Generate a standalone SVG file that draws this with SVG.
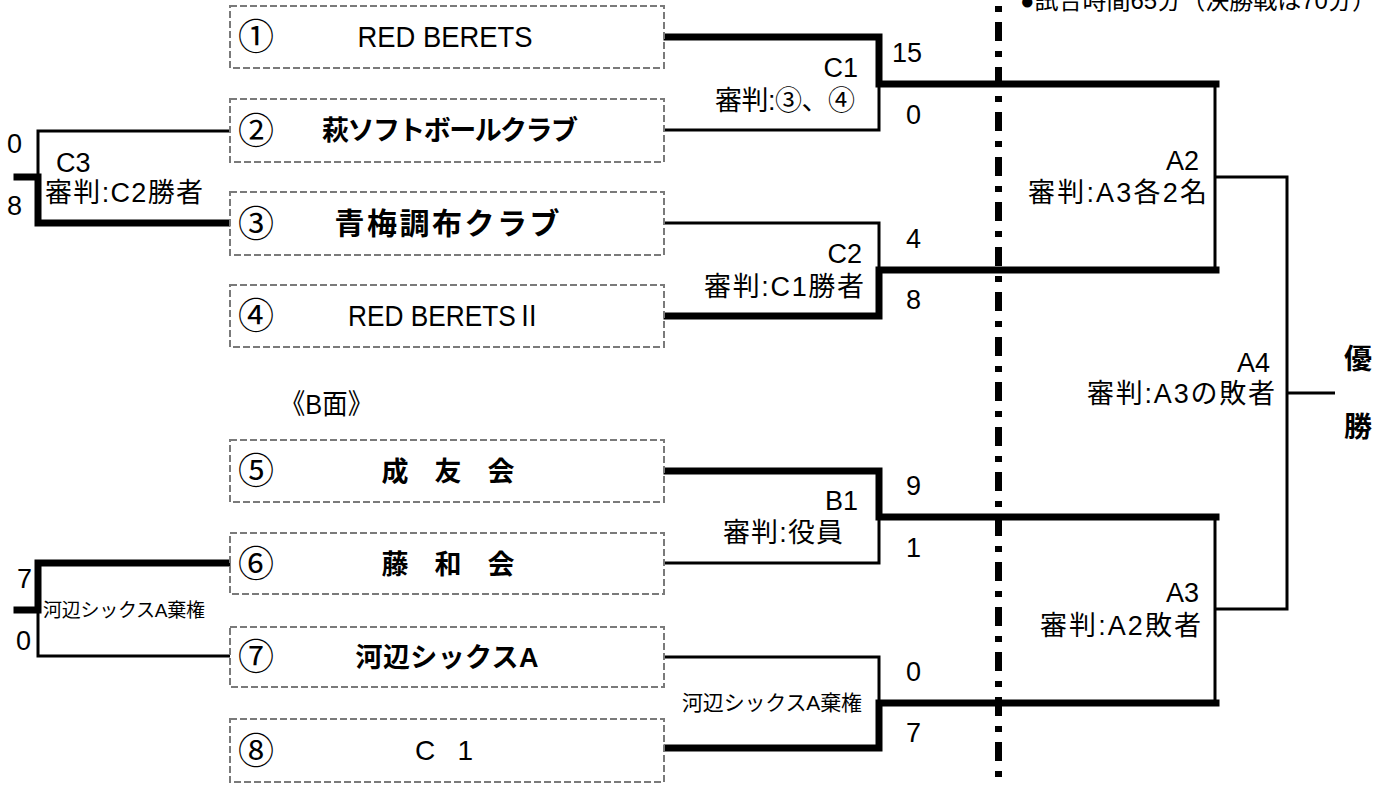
<svg xmlns="http://www.w3.org/2000/svg" width="1389" height="785" viewBox="0 0 1389 785">
<style>
.t{font-family:"Liberation Sans","Noto Sans CJK JP",sans-serif;fill:#000}
.c{font-family:"Noto Sans CJK JP",sans-serif;font-size:36px;fill:#000;text-anchor:middle}
.n{font-size:27px}
.b{font-weight:bold}
.s{font-size:27px}
.l{font-size:27px}
.box{fill:none;stroke:#7a7a7a;stroke-width:2;stroke-dasharray:7 3}
.thick{fill:none;stroke:#000;stroke-width:7;stroke-linejoin:miter;stroke-linecap:square}
.thin{fill:none;stroke:#000;stroke-width:3;stroke-linejoin:miter;stroke-linecap:butt}
</style>
<rect width="1389" height="785" fill="#fff"/>
<g id="connectors">
<line x1="998.5" y1="0" x2="998.5" y2="785" stroke="#000" stroke-width="7" stroke-dasharray="19 10 6 10" stroke-dashoffset="23"/>
<path class="thin" d="M664,130 H879 V84"/>
<path class="thick" d="M667,37 H879 V84 H1216"/>
<path class="thin" d="M664,223 H879 V270"/>
<path class="thick" d="M667,316 H879 V270 H1216"/>
<path class="thin" d="M1215,84 V270"/>
<path class="thin" d="M664,563 H879 V517"/>
<path class="thick" d="M667,471 H879 V517 H1216"/>
<path class="thin" d="M664,657 H879 V703"/>
<path class="thick" d="M667,748 H879 V703 H1216"/>
<path class="thin" d="M1215,517 V703"/>
<path class="thin" d="M1215,177 H1287 V609 H1215"/>
<path class="thin" d="M1287,393 H1335"/>
<path class="thin" d="M230,131 H38 V177"/>
<path class="thick" d="M227,223 H38 V177 H17"/>
<path class="thick" d="M227,563 H38 V610 H17"/>
<path class="thin" d="M230,656 H38 V610"/>
</g>
<g id="note"><text class="t" x="1020" y="9" font-size="24">●試合時間65分（決勝戦は70分）</text></g>
<g id="team1"><rect class="box" x="230" y="6" width="434" height="62"/><text class="c" x="256" y="50">①</text><text class="t" font-size="29" x="445" y="47" text-anchor="middle" textLength="175" lengthAdjust="spacingAndGlyphs">RED BERETS</text></g>
<g id="team2"><rect class="box" x="230" y="99" width="434" height="63"/><text class="c" x="256" y="143.5">②</text><text class="t n b" x="450" y="140" text-anchor="middle" textLength="256">萩ソフトボールクラブ</text></g>
<g id="team3"><rect class="box" x="230" y="192" width="434" height="63"/><text class="c" x="256" y="236.5">③</text><text class="t b" font-size="30" x="447" y="234" text-anchor="middle" textLength="225">青梅調布クラブ</text></g>
<g id="team4"><rect class="box" x="230" y="285" width="434" height="62"/><text class="c" x="256" y="329">④</text><text class="t" font-size="29" x="445" y="326" text-anchor="middle" textLength="194" lengthAdjust="spacingAndGlyphs">RED BERETSⅡ</text></g>
<g id="sectionB"><text class="t" font-size="28" x="280" y="414" textLength="93" lengthAdjust="spacingAndGlyphs">《B面》</text></g>
<g id="team5"><rect class="box" x="230" y="440" width="434" height="62"/><text class="c" x="256" y="484">⑤</text><text class="t n b" x="448" y="481" text-anchor="middle" textLength="133">成　友　会</text></g>
<g id="team6"><rect class="box" x="230" y="533" width="434" height="61"/><text class="c" x="256" y="576.5">⑥</text><text class="t n b" x="448" y="574" text-anchor="middle" textLength="133">藤　和　会</text></g>
<g id="team7"><rect class="box" x="230" y="627" width="434" height="60"/><text class="c" x="256" y="670">⑦</text><text class="t n b" x="447" y="667" text-anchor="middle" textLength="183">河辺シックスA</text></g>
<g id="team8"><rect class="box" x="230" y="719" width="434" height="63"/><text class="c" x="256" y="763.5">⑧</text><text class="t" font-size="28" x="444" y="760" text-anchor="middle" textLength="58">C　1</text></g>
<g id="matchC1"><text class="t l" x="858" y="77" text-anchor="end">C1</text><text class="t s" x="855" y="110" text-anchor="end" textLength="140">審判:③、④</text><text class="t l" x="892" y="62">15</text><text class="t l" x="906" y="124">0</text></g>
<g id="matchC2"><text class="t l" x="862" y="263" text-anchor="end">C2</text><text class="t s" x="864" y="296" text-anchor="end" textLength="160">審判:C1勝者</text><text class="t l" x="906" y="248">4</text><text class="t l" x="906" y="309">8</text></g>
<g id="matchC3"><text class="t l" x="56" y="172">C3</text><text class="t s" x="45" y="202" textLength="158">審判:C2勝者</text><text class="t l" x="7" y="153">0</text><text class="t l" x="7" y="215">8</text></g>
<g id="matchB1"><text class="t l" x="858" y="510" text-anchor="end">B1</text><text class="t s" x="843" y="542" text-anchor="end" textLength="120">審判:役員</text><text class="t l" x="906" y="495">9</text><text class="t l" x="906" y="557">1</text></g>
<g id="matchB2"><text class="t" font-size="21" x="862" y="710" text-anchor="end" textLength="180">河辺シックスA棄権</text><text class="t l" x="906" y="681">0</text><text class="t l" x="906" y="742">7</text></g>
<g id="matchB3"><text class="t" font-size="19" x="43" y="617" textLength="162">河辺シックスA棄権</text><text class="t l" x="17" y="588">7</text><text class="t l" x="16" y="650">0</text></g>
<g id="matchA2"><text class="t l" x="1199" y="170" text-anchor="end">A2</text><text class="t s" x="1207" y="202" text-anchor="end" textLength="179">審判:A3各2名</text></g>
<g id="matchA3"><text class="t l" x="1199" y="602" text-anchor="end">A3</text><text class="t s" x="1201" y="635" text-anchor="end" textLength="161">審判:A2敗者</text></g>
<g id="matchA4"><text class="t l" x="1270" y="372" text-anchor="end">A4</text><text class="t s" x="1275" y="403" text-anchor="end" textLength="188">審判:A3の敗者</text></g>
<g id="champion"><text class="t b" font-size="28" x="1358" y="369" text-anchor="middle">優</text><text class="t b" font-size="28" x="1358" y="437" text-anchor="middle">勝</text></g>
</svg>
